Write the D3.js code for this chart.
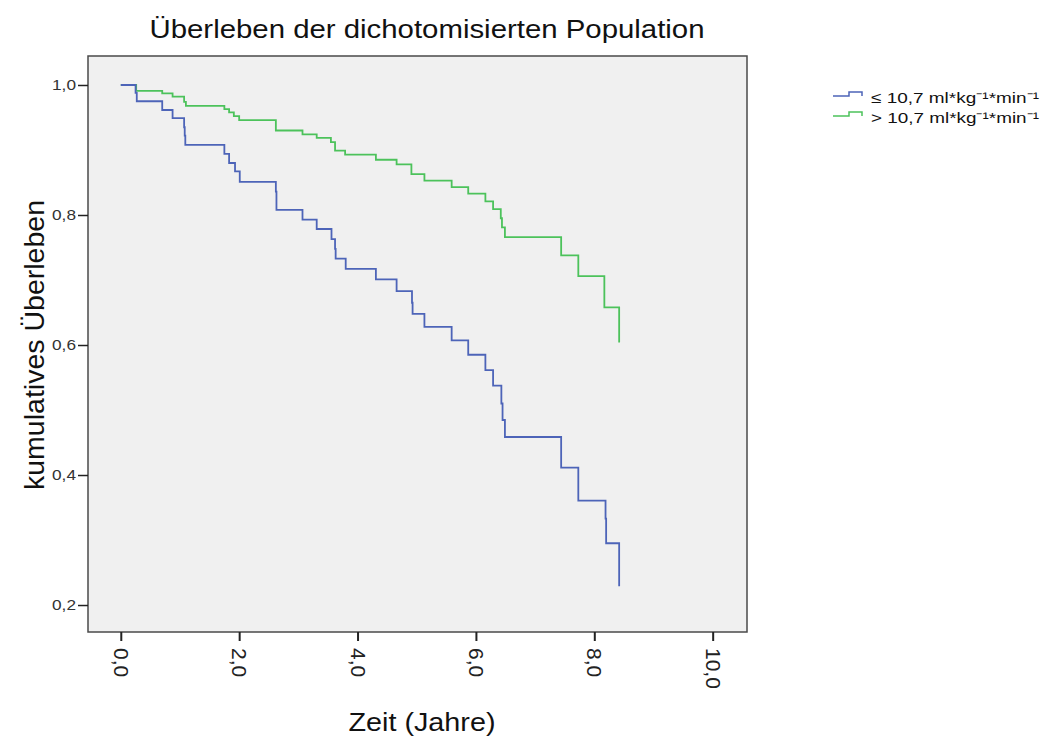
<!DOCTYPE html>
<html>
<head>
<meta charset="utf-8">
<script src="https://cdn.jsdelivr.net/npm/d3@7"></script>
<style>
  html, body { margin: 0; padding: 0; background: #ffffff; }
  svg { display: block; font-family: "Liberation Sans", Arial, Helvetica, sans-serif; }
</style>
</head>
<body>
<svg id="chart" width="1045" height="741"></svg>
<script>
// ---- data ----
const chartTitle = "Überleben der dichotomisierten Population";
const xAxisTitle = "Zeit (Jahre)";
const yAxisTitle = "kumulatives Überleben";
const seriesNames = ["≤ 10,7 ml*kg⁻¹*min⁻¹", "> 10,7 ml*kg⁻¹*min⁻¹"];
const seriesColors = ["#4d64b8", "#4cc25b"];

const lowTimes  = [0, 0.25, 0.27, 0.70, 0.875, 1.07, 1.08, 1.09, 1.75, 1.83, 1.93, 2.01, 2.62, 2.63, 3.07, 3.31, 3.56, 3.62, 3.63, 3.80, 4.31, 4.66, 4.92, 4.93, 5.13, 5.59, 5.87, 6.16, 6.29, 6.43, 6.45, 6.49, 7.44, 7.73, 8.19, 8.20, 8.42];
const lowSurv   = [1.0, 0.988, 0.975, 0.9615, 0.949, 0.935, 0.922, 0.908, 0.894, 0.880, 0.867, 0.851, 0.836, 0.808, 0.793, 0.7785, 0.763, 0.748, 0.733, 0.717, 0.701, 0.683, 0.665, 0.648, 0.628, 0.607, 0.585, 0.5615, 0.5375, 0.510, 0.4846, 0.4585, 0.4113, 0.3606, 0.333, 0.295, 0.229];

const highTimes = [0, 0.26, 0.70, 0.875, 1.07, 1.10, 1.75, 1.83, 1.91, 2.00, 2.62, 3.07, 3.31, 3.55, 3.62, 3.79, 4.31, 4.66, 4.91, 5.13, 5.59, 5.87, 6.16, 6.29, 6.42, 6.44, 6.49, 7.44, 7.73, 8.17, 8.42];
const highSurv  = [1.0, 0.991, 0.987, 0.982, 0.974, 0.968, 0.963, 0.958, 0.952, 0.946, 0.930, 0.924, 0.9185, 0.912, 0.899, 0.893, 0.885, 0.878, 0.863, 0.853, 0.843, 0.833, 0.821, 0.809, 0.795, 0.781, 0.766, 0.738, 0.706, 0.658, 0.604];

const xTicks = [0, 2, 4, 6, 8, 10];
const xTickLabels = ["0,0", "2,0", "4,0", "6,0", "8,0", "10,0"];
const yTicks = [0.2, 0.4, 0.6, 0.8, 1.0];
const yTickLabels = ["0,2", "0,4", "0,6", "0,8", "1,0"];

// ---- layout ----
const plot = { left: 88, right: 747, top: 56, bottom: 632 };
const svg = d3.select("#chart");

const x = d3.scaleLinear().domain([-0.554, 10.58]).range([plot.left, plot.right]);
const y = d3.scaleLinear().domain([0.1585, 1.0446]).range([plot.bottom, plot.top]);

// plot background + frame
svg.append("rect")
  .attr("x", plot.left).attr("y", plot.top)
  .attr("width", plot.right - plot.left).attr("height", plot.bottom - plot.top)
  .attr("fill", "#f0f0f0")
  .attr("stroke", "#4a4a4a").attr("stroke-width", 1.5);

// title
svg.append("text")
  .attr("x", 427).attr("y", 38)
  .attr("text-anchor", "middle")
  .attr("font-size", 25)
  .attr("textLength", 555).attr("lengthAdjust", "spacingAndGlyphs")
  .attr("fill", "#111")
  .text(chartTitle);

// y axis
const yAxis = d3.axisLeft(y)
  .tickValues(yTicks)
  .tickSize(10).tickSizeOuter(0)
  .tickPadding(3)
  .tickFormat((d, i) => yTickLabels[i]);
const gy = svg.append("g").attr("transform", `translate(${plot.left},0)`).call(yAxis);
gy.select(".domain").remove();
gy.selectAll(".tick line").attr("stroke", "#222").attr("stroke-width", 1.5);
gy.selectAll(".tick text")
  .attr("font-size", 15)
  .attr("fill", "#333")
  .attr("font-family", "\"Liberation Sans\", Arial, sans-serif")
  .attr("transform", "scale(1.15,1)")
  .attr("x", -12 / 1.15);

// x axis
const xAxis = d3.axisBottom(x)
  .tickValues(xTicks)
  .tickSize(9).tickSizeOuter(0)
  .tickFormat((d, i) => xTickLabels[i]);
const gx = svg.append("g").attr("transform", `translate(0,${plot.bottom})`).call(xAxis);
gx.select(".domain").remove();
gx.selectAll(".tick line").attr("stroke", "#222").attr("stroke-width", 2);
gx.selectAll(".tick text")
  .attr("font-size", 21)
  .attr("fill", "#222")
  .attr("font-family", "\"Liberation Sans\", Arial, sans-serif")
  .attr("text-anchor", "start")
  .attr("transform", "rotate(90)")
  .attr("x", 16)
  .attr("y", 0)
  .attr("dy", "0.35em");

// axis titles
svg.append("text")
  .attr("x", 422).attr("y", 731)
  .attr("text-anchor", "middle")
  .attr("font-size", 25)
  .attr("textLength", 147).attr("lengthAdjust", "spacingAndGlyphs")
  .attr("fill", "#111")
  .text(xAxisTitle);

svg.append("text")
  .attr("transform", "translate(44,345) rotate(-90)")
  .attr("text-anchor", "middle")
  .attr("font-size", 27)
  .attr("textLength", 290).attr("lengthAdjust", "spacingAndGlyphs")
  .attr("fill", "#111")
  .text(yAxisTitle);

// curves
const line = d3.line()
  .x(d => x(d[0]))
  .y(d => y(d[1]))
  .curve(d3.curveStepAfter);

const series = [
  lowTimes.map((t, i) => [t, lowSurv[i]]),
  highTimes.map((t, i) => [t, highSurv[i]])
];

// draw green first then blue on top
[1, 0].forEach(k => {
  svg.append("path")
    .datum(series[k])
    .attr("fill", "none")
    .attr("stroke", seriesColors[k])
    .attr("stroke-width", 1.8)
    .attr("d", line);
});

// legend
const legendRows = [{ y: 96 }, { y: 116 }];
seriesNames.forEach((name, i) => {
  const ly = legendRows[i].y;
  const icon = [[833, ly], [849, ly], [849, ly - 4], [862, ly - 4], [862, ly]];
  svg.append("path")
    .attr("d", d3.line()(icon))
    .attr("fill", "none")
    .attr("stroke", seriesColors[i])
    .attr("stroke-width", 1.5);
  svg.append("text")
    .attr("x", 871).attr("y", ly + 7)
    .attr("font-size", 15.5)
    .attr("textLength", 168).attr("lengthAdjust", "spacingAndGlyphs")
    .attr("fill", "#111")
    .text(name);
});
</script>
</body>
</html>
